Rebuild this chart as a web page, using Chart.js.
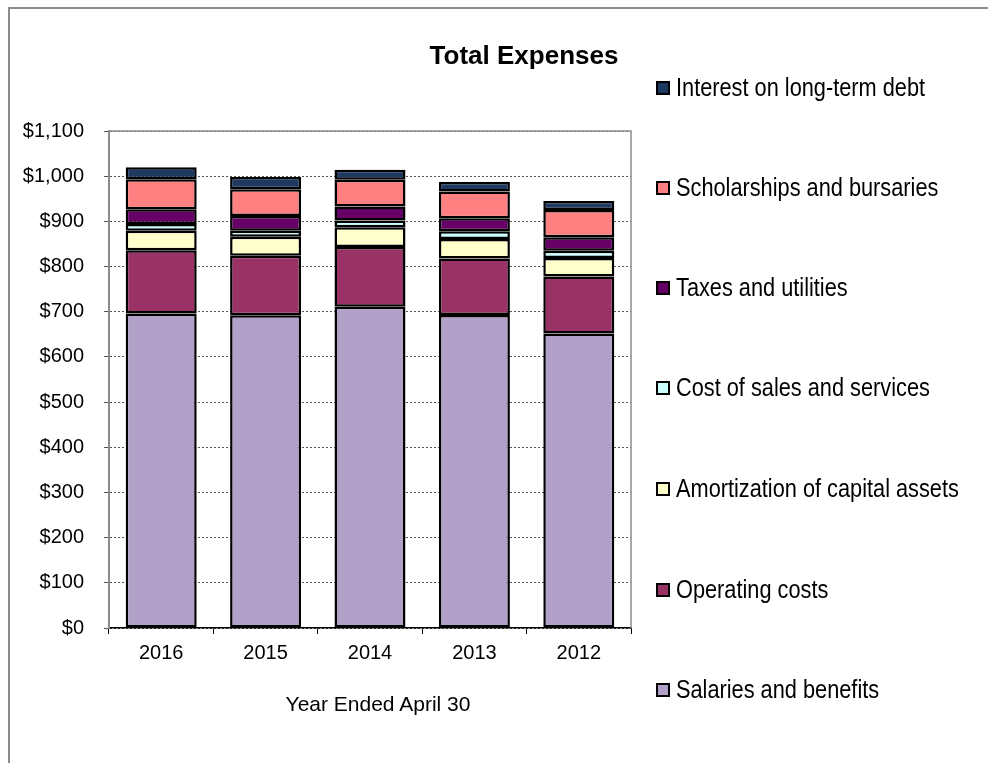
<!DOCTYPE html>
<html>
<head>
<meta charset="utf-8">
<script src="https://cdn.jsdelivr.net/npm/chart.js@4.4.0/dist/chart.umd.min.js"></script>
<style>
  body { margin: 0; background: #fff; }
  #wrap { position: relative; width: 988px; height: 763px; overflow: hidden; }
  #frame { position: absolute; left: 8px; top: 7px; width: 1000px; height: 800px;
           border-left: 2px solid #8c8c8c; border-top: 2px solid #8c8c8c; }
  canvas { position: absolute; left: 0; top: 0; }
  .title { position: absolute; left: 374px; width: 300px; top: 40px; text-align: center;
           font: bold 26px "Liberation Sans", Arial, sans-serif; }
  .xtitle { position: absolute; left: 228px; width: 300px; top: 692px; text-align: center;
            font: 21px "Liberation Sans", Arial, sans-serif; }
  .leg { position: absolute; left: 656px; white-space: nowrap; line-height: 28px; }
  .leg span.box { display: inline-block; width: 10px; height: 10px; border: 2px solid #000;
                  margin-right: 6px; vertical-align: 1px; }
  .leg span.txt { display: inline-block; font: 25px "Liberation Sans", Arial, sans-serif;
                  transform: scaleX(0.87); transform-origin: left center; }
</style>
</head>
<body>
<div id="wrap">
  <div id="frame"></div>
  <canvas id="c" width="988" height="763"></canvas>
  <div class="title">Total Expenses</div>
  <div class="xtitle">Year Ended April 30</div>
  <div id="legend"></div>
</div>
<script>
const years = ['2016', '2015', '2014', '2013', '2012'];
const seriesNames = ['Salaries and benefits', 'Operating costs', 'Amortization of capital assets',
  'Cost of sales and services', 'Taxes and utilities', 'Scholarships and bursaries', 'Interest on long-term debt'];
const salaries = [696, 692, 711, 693, 652];
const operating = [140, 132, 132, 125, 126];
const amortization = [43, 42, 44, 43, 41];
const costOfSales = [15, 13, 15, 17, 16];
const taxes = [33, 33, 31, 29, 30];
const scholarships = [66, 59, 59, 59, 60];
const interest = [27, 27, 22, 21, 20];
const colors = ['#b1a0c7', '#993366', '#ffffcc', '#ccffff', '#660066', '#ff8080', '#1f3a60'];

const values = [salaries, operating, amortization, costOfSales, taxes, scholarships, interest];

// legend, listed top to bottom in reverse order
const legend = document.getElementById('legend');
const legTop = [87, 187, 287, 387, 488, 589, 689];
for (let i = 0; i < 7; i++) {
  const idx = 6 - i;
  const d = document.createElement('div');
  d.className = 'leg';
  d.style.top = (legTop[i] - 14) + 'px';
  d.innerHTML = '<span class="box" style="background:' + colors[idx] + '"></span>' +
    '<span class="txt">' + seriesNames[idx] + '</span>';
  legend.appendChild(d);
}

const plotFrame = {
  id: 'plotFrame',
  afterDraw(chart) {
    const a = chart.chartArea, ctx = chart.ctx;
    ctx.save();
    ctx.strokeStyle = '#8c8c8c';
    ctx.lineWidth = 1.5;
    ctx.beginPath();
    ctx.moveTo(a.left, a.top); ctx.lineTo(a.right, a.top); ctx.lineTo(a.right, a.bottom);
    ctx.stroke();
    ctx.restore();
  }
};

new Chart(document.getElementById('c').getContext('2d'), {
  type: 'bar',
  data: {
    labels: years,
    datasets: values.map((v, i) => ({
      label: seriesNames[i],
      data: v,
      backgroundColor: colors[i],
      borderColor: '#000',
      borderWidth: 2.5,
      borderSkipped: false,
      categoryPercentage: 1,
      barPercentage: 0.68
    }))
  },
  options: {
    responsive: false,
    animation: false,
    layout: { padding: { left: 9, right: 357, top: 131, bottom: 35 } },
    plugins: { legend: { display: false }, tooltip: { enabled: false } },
    scales: {
      x: {
        stacked: true,
        afterFit(s) { s.height = 100; },
        grid: { drawOnChartArea: false, color: '#000', tickLength: 6, offset: true },
        border: { color: '#000', width: 1.5 },
        ticks: { color: '#000', font: { family: 'Liberation Sans', size: 20 }, padding: 7 }
      },
      y: {
        stacked: true,
        min: 0, max: 1100,
        afterFit(s) { s.width = 100; },
        grid: { color: '#555', tickLength: 5, lineWidth: 1 },
        border: { color: '#8c8c8c', width: 2, dash: [2, 2] },
        ticks: {
          stepSize: 100, color: '#000', padding: 20,
          font: { family: 'Liberation Sans', size: 20 },
          callback: v => '$' + v.toLocaleString('en-US')
        }
      }
    }
  },
  plugins: [plotFrame]
});
</script>
</body>
</html>
